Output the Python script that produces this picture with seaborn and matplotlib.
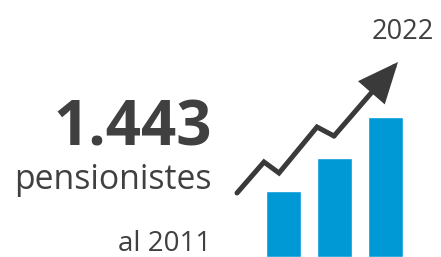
import matplotlib
matplotlib.use("Agg")
import matplotlib.pyplot as plt
import seaborn as sns
import pandas as pd

# data
years = ["2011", "2016", "2022"]
values = [66, 99, 140]          # bar heights (relative)
trend_x = [237, 264, 279, 317, 334, 398]
trend_y = [193, 162, 173, 127, 136, 62]
big_number = "1.443"
label = "pensionistes"
start_label = "al 2011"
end_label = "2022"

BLUE = "#0099D6"
DARK = "#404040"

sns.set_theme(style="white")
plt.rcParams["font.family"] = ["Open Sans", "DejaVu Sans"]

W, H = 441, 257
fig = plt.figure(figsize=(W / 100, H / 100), dpi=100)
fig.patch.set_facecolor("white")

# bar axes
ax_b = fig.add_axes([257.9 / W, 0, 153 / W, 1])
df = pd.DataFrame({"year": years, "value": values})
sns.barplot(data=df, x="year", y="value", color=BLUE, saturation=1,
            width=0.68, ax=ax_b)
ax_b.set_xlim(-0.5, 2.5)
ax_b.set_ylim(0, H)
ax_b.axis("off")

# overlay axes in pixel coordinates
ax = fig.add_axes([0, 0, 1, 1], facecolor="none")
ax.set_xlim(0, W)
ax.set_ylim(H, 0)
ax.axis("off")

ax.plot(trend_x[:-1], trend_y[:-1], color="#3a3a3a", lw=3.6,
        solid_capstyle="round", solid_joinstyle="miter")
ax.annotate("", xy=(trend_x[-1], trend_y[-1]), xytext=(trend_x[-2], trend_y[-2]),
            arrowprops=dict(arrowstyle="-|>,head_length=23,head_width=10",
                            color="#3a3a3a", lw=3.6, shrinkA=0, shrinkB=0,
                            mutation_scale=1, joinstyle="miter"))

ax.text(212, 145, big_number, ha="right", va="baseline", fontsize=44.5,
        fontweight="bold", color=DARK)
ax.text(212, 189, label, ha="right", va="baseline", fontsize=24.3, color=DARK)
ax.text(211, 251, start_label, ha="right", va="baseline", fontsize=20, color=DARK)
ax.text(434, 39, end_label, ha="right", va="baseline", fontsize=19.5, color=DARK)

fig.savefig("out.png", dpi=100)
